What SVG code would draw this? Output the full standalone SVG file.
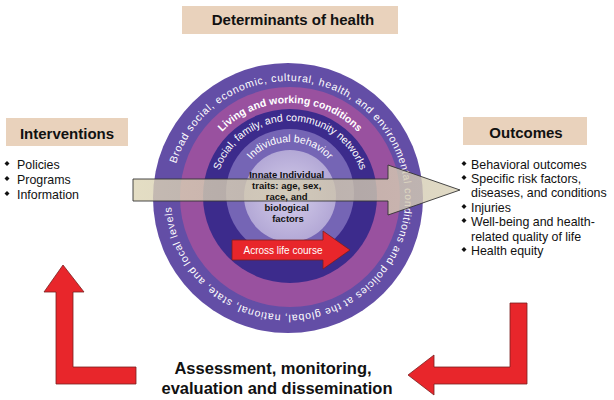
<svg xmlns="http://www.w3.org/2000/svg" xmlns:xlink="http://www.w3.org/1999/xlink" width="614" height="400" viewBox="0 0 614 400">
<style>
text{font-family:"Liberation Sans",Arial,sans-serif}
.hdr{font-size:15px;font-weight:bold;fill:#111;text-anchor:middle}
.box{fill:#e9d2bc}
.bl{font-size:12.4px;fill:#111}
.bul{fill:#111}
.ring{fill:#fff;font-size:10.5px}
.red{fill:#e8262b;stroke:#7a2020;stroke-width:0.8}
.big{font-size:16.5px;font-weight:bold;fill:#111;text-anchor:middle}
</style>
<defs>
<radialGradient id="gIn" cx="0.5" cy="0.5" r="0.5">
<stop offset="0" stop-color="#d4cdea"/>
<stop offset="1" stop-color="#b3a8d6"/>
</radialGradient>
<linearGradient id="gArr" x1="0" y1="0" x2="1" y2="0">
<stop offset="0" stop-color="#ddd5b5"/>
<stop offset="0.6" stop-color="#cfc6ad"/>
<stop offset="1" stop-color="#d8d0b6"/>
</linearGradient>
<path id="pOuter" d="M176.1,163.8 A117,117 0 0 1 404.1,212.3 A117,117 0 0 1 171.3,206.2"/>
<path id="pPink" d="M196,197 A94,94 0 0 1 384,197"/>
<path id="pDark" d="M215,196 A75,75 0 0 1 365,196"/>
<path id="pMed" d="M239,193 A51,51 0 0 1 341,193"/>
</defs>

<g id="determinants">
<rect class="box" x="182" y="6" width="216" height="28"/>
<text class="hdr" x="293" y="25">Determinants of health</text>
</g>

<g id="circle">
<circle cx="288" cy="198" r="135" fill="#634ea6"/>
<circle cx="290" cy="197" r="110" fill="#99519f"/>
<circle cx="290" cy="196" r="87" fill="#3c2b8c"/>
<circle cx="290" cy="193" r="64" fill="#7565b5"/>
<circle cx="290" cy="196" r="46" fill="url(#gIn)"/>
<text class="ring" font-size="11.5"><textPath xlink:href="#pOuter" textLength="690" lengthAdjust="spacing">Broad social, economic, cultural, health, and environmental conditions and policies at the global, national, state, and local levels</textPath></text>
<text class="ring" font-size="9.5" font-weight="bold" text-anchor="middle"><textPath xlink:href="#pPink" startOffset="50%">Living and working conditions</textPath></text>
<text class="ring" text-anchor="middle"><textPath xlink:href="#pDark" startOffset="50%">Social, family, and community networks</textPath></text>
<text class="ring" font-size="10" text-anchor="middle"><textPath xlink:href="#pMed" startOffset="50%">Individual behavior</textPath></text>
</g>

<g id="connectors">
<polygon id="mainArrow" points="133,179 388,179 388,165 460,190 388,215 388,201 133,201" fill="url(#gArr)" fill-opacity="0.8" stroke="#333" stroke-width="0.9"/>
<polygon id="lifeArrow" class="red" points="232,240 323,240 323,231 350,250 323,269 323,260 232,260"/>
<polygon id="leftL" class="red" points="63,265 84,292 73,292 73,367 136,367 136,384 56,384 56,292 44,292"/>
<polygon id="rightL" class="red" points="510,303 527,303 527,384 434,384 434,395 408,375 434,355 434,367 510,367"/>
</g>

<g id="innate">
<text font-size="9.5" font-weight="bold" fill="#111" text-anchor="middle">
<tspan x="288" y="178">Innate Individual</tspan>
<tspan x="288" y="189">traits: age, sex,</tspan>
<tspan x="288" y="200">race, and</tspan>
<tspan x="288" y="211">biological</tspan>
<tspan x="288" y="222">factors</tspan>
</text>
</g>

<g id="lifecourse">
<text x="283" y="254" font-size="10" fill="#fff" text-anchor="middle">Across life course</text>
</g>

<g id="interventions">
<rect class="box" x="6" y="118" width="122" height="28"/>
<text class="hdr" x="67" y="139">Interventions</text>
<polygon class="bul" points="7,161 9.5,163.5 7,166 4.5,163.5"/>
<polygon class="bul" points="7,176 9.5,178.5 7,181 4.5,178.5"/>
<polygon class="bul" points="7,191 9.5,193.5 7,196 4.5,193.5"/>
<text class="bl" x="17" y="169">Policies</text>
<text class="bl" x="17" y="184">Programs</text>
<text class="bl" x="17" y="199">Information</text>
</g>

<g id="outcomes">
<rect class="box" x="463" y="117" width="124" height="28"/>
<text class="hdr" x="526" y="138">Outcomes</text>
<polygon class="bul" points="464,161 466.5,163.5 464,166 461.5,163.5"/>
<polygon class="bul" points="464,175 466.5,177.5 464,180 461.5,177.5"/>
<polygon class="bul" points="464,204 466.5,206.5 464,209 461.5,206.5"/>
<polygon class="bul" points="464,218 466.5,220.5 464,223 461.5,220.5"/>
<polygon class="bul" points="464,247 466.5,249.5 464,252 461.5,249.5"/>
<text class="bl" x="471" y="169">Behavioral outcomes</text>
<text class="bl" x="471" y="183">Specific risk factors,</text>
<text class="bl" x="471" y="197">diseases, and conditions</text>
<text class="bl" x="471" y="212">Injuries</text>
<text class="bl" x="471" y="226">Well-being and health-</text>
<text class="bl" x="471" y="241">related quality of life</text>
<text class="bl" x="471" y="255">Health equity</text>
</g>

<g id="assessment">
<text class="big" x="273" y="374">Assessment, monitoring,</text>
<text class="big" x="277" y="394">evaluation and dissemination</text>
</g>
</svg>
